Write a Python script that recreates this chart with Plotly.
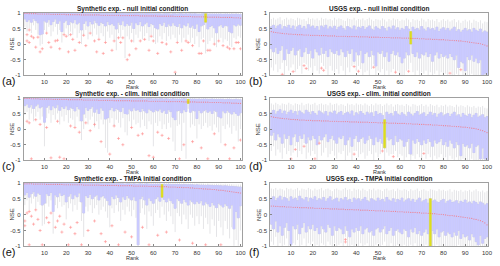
import plotly.graph_objects as go

# ---------------- data ----------------
ranks = list(range(1, 101))
x_tick_vals = [10, 20, 30, 40, 50, 60, 70, 80, 90, 100]
y_tick_vals = [-1, -0.5, 0, 0.5, 1]
y_tick_text = ["-1", "-0.5", "0", "0.5", "1"]

titles = [
    "Synthetic exp. - null initial condition",
    "USGS exp. - null initial condition",
    "Synthetic exp. - clim. initial condition",
    "USGS exp. - clim. initial condition",
    "Synthetic exp. - TMPA initial condition",
    "USGS exp. - TMPA initial condition",
]
panel_labels = ["(a)", "(b)", "(c)", "(d)", "(e)", "(f)"]
highlight_ranks = [84, 65, 76, 53, 64, 74]

# (a) synthetic - null
syn_null_med = [.98,.98,.97,.97,.97,.97,.96,.96,.96,.96,
                .96,.96,.95,.95,.95,.95,.95,.95,.95,.94,
                .94,.94,.94,.94,.94,.94,.93,.93,.93,.93,
                .93,.93,.93,.93,.93,.92,.92,.92,.92,.92,
                .92,.92,.92,.92,.91,.91,.91,.91,.91,.91,
                .91,.91,.91,.90,.90,.90,.90,.90,.90,.90,
                .90,.89,.89,.89,.89,.89,.89,.89,.89,.88,
                .88,.88,.88,.88,.88,.88,.88,.87,.87,.87,
                .87,.87,.87,.87,.86,.86,.86,.86,.86,.86,
                .85,.85,.85,.85,.85,.85,.84,.84,.84,.83]
syn_null_q3 = [.99,.99,.99,.99,.99,.99,.99,.99,.98,.99,
               .99,.98,.99,.98,.99,.98,.98,.99,.98,.98,
               .98,.98,.99,.98,.98,.98,.98,.98,.98,.98,
               .98,.97,.98,.98,.98,.98,.97,.98,.98,.97,
               .98,.97,.98,.98,.97,.98,.97,.97,.98,.97,
               .97,.98,.97,.97,.97,.97,.98,.97,.97,.97,
               .97,.97,.97,.96,.97,.97,.97,.96,.97,.97,
               .96,.97,.97,.96,.97,.96,.97,.96,.97,.96,
               .96,.96,.97,.97,.96,.96,.96,.96,.96,.96,
               .96,.95,.96,.96,.95,.96,.95,.96,.95,.95]
syn_null_q1 = [.80,.72,.78,.70,.82,.75,.68,.30,.32,.74,
               .70,.78,.62,.72,.80,.66,.74,.40,.70,.76,
               .62,.72,.68,.78,.64,.70,.45,.66,.74,.58,
               .72,.64,.76,.68,.60,.70,.66,.58,.72,.62,
               .66,.60,.48,.70,.62,.74,.58,.66,.60,.70,
               .50,.68,.62,.72,.58,.64,.70,.56,.66,.62,
               .52,.48,.66,.60,.70,.56,.64,.58,.68,.60,
               .56,.66,.52,.62,.58,.68,.54,.60,.50,.64,
               .40,.58,.62,.70,.48,.56,.60,.52,.36,.58,
               .62,.54,.60,.58,.40,.36,.62,.58,.64,.60]
syn_null_lo = [.55,.40,.50,.35,.60,.45,.30,-.05,.00,.45,
               .40,.55,.25,.40,.55,.30,.45,.05,.35,.50,
               .25,.40,.30,.50,.20,.35,.00,.30,.45,.15,
               .40,.25,.50,.30,.20,.35,.25,.10,.40,.20,
               .30,.15,-.20,.35,.20,.45,-.45,.25,.15,.35,
               .05,.30,.20,.40,.15,.25,.35,.10,.30,.20,
               .00,.05,.25,.15,.35,.10,.25,.15,.30,.20,
               .10,.30,.05,.20,.15,.30,.05,.20,.00,.25,
               -.10,.15,.20,-.30,.00,.10,.20,.05,-.10,.15,
               .20,.05,.15,.10,-.05,-.10,.20,.15,.25,.20]
syn_null_hi = [1.0,1.0,1.0,1.0,1.0,1.0,1.0,1.0,1.0,1.0,
               1.0,1.0,1.0,1.0,1.0,1.0,1.0,1.0,1.0,1.0,
               1.0,1.0,1.0,1.0,1.0,1.0,1.0,1.0,1.0,1.0,
               1.0,1.0,1.0,1.0,1.0,1.0,1.0,1.0,1.0,1.0,
               1.0,1.0,1.0,1.0,1.0,1.0,1.0,1.0,1.0,1.0,
               1.0,1.0,1.0,1.0,1.0,1.0,1.0,1.0,1.0,1.0,
               1.0,1.0,1.0,.99,1.0,1.0,1.0,.99,1.0,1.0,
               .99,1.0,1.0,.99,1.0,.99,1.0,.99,1.0,.99,
               .99,.99,1.0,1.0,.99,.99,.99,.99,.99,.99,
               .99,.99,.99,.99,.99,.99,.99,.99,.99,.99]
syn_null_out_x = [2,2,3,3,4,5,6,7,8,9,11,12,13,15,16,17,19,20,21,22,
                  23,24,26,28,29,31,33,34,35,37,38,41,42,44,45,46,48,49,50,52,
                  54,56,58,59,60,62,64,66,68,70,71,73,75,76,78,81,82,83,85,86,
                  88,90,92,94,95,97,98,99,100]
syn_null_out_y = [.30,.10,.45,.05,.25,.20,-.10,.22,-.25,-.15,.35,.05,-.10,.10,.12,-.15,.30,.25,-.25,.30,
                  .15,-.20,.05,.28,-.05,.35,.10,-.25,.15,-.30,.05,-.20,.10,.20,.05,.20,-.50,-.35,.10,-.15,
                  .10,.15,-.20,.25,.10,-.30,.05,.00,-.25,-.90,.05,-.20,.10,.05,-.05,-.30,-.30,.10,-.20,-.20,
                  .00,.10,-.05,-.10,-.15,-.15,.05,.05,-.15]

# (b) USGS - null
usgs_null_med = [.40,.38,.37,.36,.35,.34,.33,.33,.32,.32,
                 .31,.31,.30,.30,.30,.29,.29,.29,.28,.28,
                 .28,.28,.27,.27,.27,.27,.26,.26,.26,.26,
                 .25,.25,.25,.25,.25,.24,.24,.24,.24,.24,
                 .23,.23,.23,.23,.23,.22,.22,.22,.22,.22,
                 .21,.21,.21,.21,.21,.20,.20,.20,.20,.20,
                 .19,.19,.19,.19,.18,.18,.18,.18,.17,.17,
                 .17,.16,.16,.16,.15,.15,.15,.14,.14,.14,
                 .13,.13,.12,.12,.11,.11,.10,.10,.09,.08,
                 .07,.06,.05,.04,.03,.02,.01,-.01,-.03,-.06]
usgs_null_q3 = [.55,.60,.50,.58,.62,.48,.56,.52,.60,.50,
                .58,.46,.55,.60,.50,.56,.48,.62,.54,.58,
                .50,.56,.44,.58,.52,.60,.48,.55,.50,.57,
                .46,.54,.58,.50,.44,.56,.52,.48,.58,.45,
                .54,.50,.56,.46,.52,.58,.48,.44,.55,.50,
                .46,.56,.50,.42,.54,.48,.58,.46,.52,.44,
                .50,.46,.56,.48,.40,.54,.46,.50,.44,.56,
                .48,.42,.52,.46,.50,.44,.54,.40,.48,.52,
                .44,.50,.42,.48,.54,.40,.46,.38,.44,.50,
                .42,.46,.38,.50,.44,.40,.48,.36,.42,.38]
usgs_null_q1 = [-.15,-.25,-.10,-.30,-.20,-.05,-.50,-.15,-.30,-.20,
                -.10,-.35,-.20,-.15,-.40,-.25,-.10,-.30,-.20,-.45,
                -.15,-.25,-.35,-.10,-.30,-.20,-.40,-.15,-.25,-.30,
                -.20,-.35,-.15,-.25,-.40,-.20,-.30,-.15,-.55,-.25,
                -.35,-.20,-.60,-.30,-.25,-.40,-.20,-.35,-.70,-.25,
                -.30,-.20,-.40,-.25,-.55,-.30,-.20,-.35,-.25,-.40,
                -.60,-.45,-.25,-.35,.00,-.30,-.40,-.25,-.45,-.30,
                -.35,-.25,-.40,-.30,-.55,-.35,-.25,-.45,-.30,-.40,
                -.35,-.45,-.30,-.40,-.50,-.35,-.75,-.55,-.60,-.85,
                -.40,-.50,-.35,-.55,-.45,-.60,-.50,-1.0,-.95,-1.0]
usgs_null_lo = [-.75,-.85,-.65,-.90,-.80,-.60,-1.0,-.70,-.85,-.75,
                -.65,-.90,-.80,-.70,-.95,-.60,-.65,-.85,-.75,-1.0,
                -.70,-.85,-.95,-.60,-.70,-.80,-1.0,-.70,-.85,-.90,
                -.80,-.95,-.70,-.85,-1.0,-.75,-.90,-.70,-.65,-.85,
                -.70,-.80,-1.0,-.90,-.85,-1.0,-.80,-.65,-1.0,-.85,
                -.90,-.80,-1.0,-.85,-1.0,-.90,-.80,-.85,-.85,-1.0,
                -1.0,-1.0,-.85,-.80,-.60,-.90,-1.0,-.85,-1.0,-.90,
                -.95,-.85,-1.0,-.90,-1.0,-.95,-.85,-1.0,-.90,-1.0,
                -.95,-1.0,-.85,-1.0,-1.0,-.95,-1.0,-.75,-1.0,-1.0,
                -1.0,-1.0,-.95,-1.0,-1.0,-1.0,-1.0,-1.0,-1.0,-1.0]
usgs_null_hi = [.80,.84,.78,.82,.86,.76,.80,.84,.78,.82,
                .80,.76,.84,.82,.78,.80,.74,.84,.80,.82,
                .78,.82,.76,.84,.80,.82,.78,.80,.76,.84,
                .78,.82,.80,.76,.74,.82,.80,.78,.84,.76,
                .80,.78,.82,.76,.80,.84,.78,.74,.80,.78,
                .76,.82,.78,.72,.80,.76,.82,.78,.80,.74,
                .78,.76,.82,.78,.70,.80,.76,.78,.74,.82,
                .78,.72,.80,.76,.78,.74,.80,.70,.76,.80,
                .74,.78,.72,.76,.80,.70,.76,.68,.74,.78,
                .72,.76,.68,.78,.74,.70,.76,.66,.72,.70]
usgs_null_out_x = [6,11,16,17,24,25,39,41,48,58,64,83,88]
usgs_null_out_y = [-.97,-.88,-.69,-.78,-.77,-.84,-.72,-.87,-.74,-.90,-.87,-.93,-.82]

# (c) synthetic - clim
syn_clim_med = [.98,.98,.98,.97,.97,.97,.97,.96,.96,.96,
                .96,.96,.96,.95,.95,.95,.95,.95,.95,.95,
                .94,.94,.94,.94,.94,.94,.94,.93,.93,.93,
                .93,.93,.93,.93,.92,.92,.92,.92,.92,.92,
                .92,.91,.91,.91,.91,.91,.91,.91,.91,.90,
                .90,.90,.90,.90,.90,.90,.90,.89,.89,.89,
                .89,.89,.89,.89,.89,.88,.88,.88,.88,.88,
                .88,.88,.88,.87,.87,.87,.87,.87,.87,.86,
                .86,.86,.86,.86,.86,.85,.85,.85,.85,.85,
                .85,.84,.84,.84,.84,.83,.83,.83,.82,.82]
syn_clim_q3 = [.99,.99,.99,.99,.99,.98,.99,.99,.99,.98,
               .99,.98,.99,.98,.98,.99,.98,.98,.98,.98,
               .98,.98,.98,.99,.98,.98,.97,.98,.98,.98,
               .98,.98,.97,.98,.97,.98,.98,.97,.97,.98,
               .97,.98,.97,.97,.98,.97,.97,.97,.97,.97,
               .97,.97,.98,.97,.97,.96,.97,.97,.97,.96,
               .97,.96,.97,.97,.96,.97,.96,.96,.97,.96,
               .96,.96,.96,.97,.96,.95,.96,.96,.96,.95,
               .96,.95,.96,.96,.95,.95,.96,.95,.95,.95,
               .95,.95,.94,.95,.95,.94,.94,.95,.94,.94]
syn_clim_q1 = [.75,.80,.70,.78,.66,.74,.80,.68,.72,.22,
               .70,.76,.62,.74,.68,.78,.60,.72,.66,.74,
               .62,.70,.66,.58,.72,.64,.26,.48,.70,.60,
               .66,.72,.54,.64,.50,.68,.60,.32,.36,.62,
               .70,.58,.66,.62,.56,.70,.50,.48,.64,.58,
               .68,.60,.62,.56,.66,.58,.52,.64,.60,.55,
               .62,.58,.64,.54,.60,.50,.62,.56,.38,.30,
               .58,.60,.52,.62,.56,.82,.54,.60,.58,.34,
               .60,.52,.58,.62,.54,.58,.50,.60,.56,.40,
               .36,.58,.52,.60,.54,.48,.56,.50,.44,.52]
syn_clim_lo = [.45,.55,.30,.50,.25,.40,.55,.30,.40,-.55,
               .35,.50,.20,.45,.30,.50,.15,.40,.25,.45,
               .20,.35,.30,.10,.40,.25,-.35,.00,.35,.15,
               .30,.40,.05,.25,.00,.30,.15,-.60,-.75,.20,
               .35,.10,.30,.20,.05,.35,-.10,-.20,.25,.10,
               .30,.15,.20,.05,.30,.10,.00,.25,.15,-.55,
               .20,.10,.25,.00,.15,.00,.20,.05,-.40,-.70,
               .10,.15,-.70,.20,-.95,.65,.05,.15,.10,-.30,
               .15,.00,.10,.20,.05,.10,-.05,.15,.05,-.10,
               -.45,.10,.00,.15,.05,-.15,.10,-.05,-.40,.00]
syn_clim_hi = [1.0,1.0,1.0,1.0,1.0,1.0,1.0,1.0,1.0,1.0,
               1.0,1.0,1.0,1.0,1.0,1.0,1.0,1.0,1.0,1.0,
               1.0,1.0,1.0,1.0,1.0,1.0,1.0,1.0,1.0,1.0,
               1.0,1.0,1.0,1.0,1.0,1.0,1.0,1.0,1.0,1.0,
               1.0,1.0,1.0,1.0,1.0,1.0,1.0,1.0,1.0,1.0,
               1.0,1.0,1.0,1.0,1.0,.99,1.0,1.0,1.0,.99,
               1.0,.99,1.0,1.0,.99,1.0,.99,.99,1.0,.99,
               .99,.99,.99,1.0,.99,.98,.99,.99,.99,.99,
               .99,.99,.99,.99,.99,.99,.99,.99,.99,.99,
               .99,.99,.98,.99,.99,.98,.98,.99,.98,.98]
syn_clim_out_x = [2,3,4,6,8,11,13,16,17,19,22,24,26,29,31,33,36,40,42,44,
                  46,50,53,55,58,60,62,64,67,72,74,78,82,85,88,93,95,97,100]
syn_clim_out_y = [.25,.20,-.95,.30,.15,.05,-.92,.25,-.90,-.95,.10,.05,-.10,.20,-.05,.15,-.40,-.80,.10,-.30,
                  -.50,.05,-.20,-.15,-.85,-.90,-.10,-.20,-.30,-.95,-.50,-.40,-.60,-.95,-.15,-.50,-.95,-.60,-.35]

# (d) USGS - clim
usgs_clim_med = [.40,.38,.37,.36,.35,.34,.33,.33,.32,.31,
                 .31,.30,.30,.29,.29,.29,.28,.28,.28,.27,
                 .27,.27,.27,.26,.26,.26,.26,.25,.25,.25,
                 .25,.24,.24,.24,.24,.24,.23,.23,.23,.23,
                 .22,.22,.22,.22,.22,.21,.21,.21,.21,.20,
                 .20,.20,.20,.20,.19,.19,.19,.19,.18,.18,
                 .18,.18,.17,.17,.17,.16,.16,.16,.15,.15,
                 .15,.14,.14,.14,.13,.13,.13,.12,.12,.11,
                 .11,.10,.10,.09,.09,.08,.08,.07,.06,.06,
                 .05,.04,.03,.02,.01,-.01,-.03,-.05,-.08,-.11]
usgs_clim_q3 = [.52,.60,.48,.56,.62,.50,.58,.46,.54,.60,
                .50,.56,.44,.58,.52,.48,.60,.54,.46,.56,
                .50,.44,.58,.52,.48,.56,.42,.54,.50,.58,
                .46,.52,.56,.44,.50,.54,.48,.58,.42,.52,
                .46,.56,.50,.44,.54,.48,.52,.40,.56,.46,
                .50,.44,.30,.54,.46,.50,.42,.56,.48,.44,
                .52,.46,.40,.54,.48,.42,.50,.56,.44,.48,
                .52,.40,.46,.54,.44,.50,.38,.48,.52,.42,
                .46,.50,.40,.48,.54,.42,.46,.38,.50,.44,
                .40,.48,.36,.44,.50,.38,.42,.46,.36,.40]
usgs_clim_q1 = [-.20,-.10,-.35,-.15,-.25,-.45,-.15,-.30,-.20,-.50,
                -.25,-.15,-.40,-.20,-.30,-.15,-.45,-.25,-.35,-.20,
                -.30,-.50,-.20,-.35,-.25,-.15,-.40,-.30,-.20,-.35,
                -.45,-.25,-.30,-.20,-.50,-.35,-.25,-.55,-.30,-.20,
                -.40,-.30,-.25,-.45,-.35,-.20,-.30,-.50,-.25,-.40,
                -.30,-.45,-.60,-.25,-.35,-.30,-.50,-.20,-.40,-.30,
                -.35,-.55,-.40,-.30,-.80,-.35,-.45,-.30,-.40,-.50,
                -.35,-.45,-.30,-.40,-.55,-.35,-.45,-.40,-.30,-.50,
                -.40,-.55,-.35,-.45,-.60,-.40,-.50,-.85,-.45,-.55,
                -.50,-.60,-.45,-.75,-.55,-.50,-.95,-.60,-.95,-1.0]
usgs_clim_lo = [-.70,-.55,-.85,-.65,-.75,-.95,-.60,-.80,-.70,-.85,
                -.75,-.55,-.90,-.70,-.80,-.45,-.95,-.75,-.85,-.70,
                -.80,-1.0,-.40,-.85,-.75,-.60,-.90,-.80,-.70,-.85,
                -.95,-.75,-.80,-.70,-1.0,-.85,-.75,-1.0,-.70,-.70,
                -.90,-.80,-.75,-.95,-.85,-.70,-.80,-1.0,-.75,-.90,
                -.80,-.65,-1.0,-.75,-.85,-.80,-.80,-.70,-.90,-.80,
                -.85,-1.0,-.90,-.80,-1.0,-.85,-.95,-.80,-.90,-1.0,
                -.70,-.95,-.80,-.90,-1.0,-.85,-.95,-.90,-.80,-1.0,
                -.90,-1.0,-.85,-.95,-1.0,-.90,-1.0,-1.0,-.95,-1.0,
                -1.0,-1.0,-.95,-1.0,-1.0,-1.0,-1.0,-1.0,-1.0,-1.0]
usgs_clim_hi = [.82,.78,.84,.80,.76,.82,.80,.78,.84,.80,
                .76,.82,.80,.78,.84,.76,.80,.82,.78,.80,
                .84,.76,.80,.82,.78,.80,.76,.84,.78,.80,
                .82,.76,.80,.78,.74,.82,.78,.80,.76,.82,
                .78,.80,.76,.82,.78,.74,.80,.76,.82,.78,
                .80,.74,.78,.82,.76,.80,.72,.78,.80,.76,
                .78,.74,.80,.76,.72,.80,.78,.74,.76,.80,
                .74,.78,.72,.80,.76,.74,.78,.70,.76,.74,
                .78,.72,.76,.74,.70,.78,.72,.76,.74,.70,
                .76,.72,.70,.74,.68,.72,.70,.74,.68,.66]
usgs_clim_out_x = [10,12,16,21,23,39,52,57,71]
usgs_clim_out_y = [-.95,-.65,-.55,-.95,-.45,-.80,-.70,-.88,-.78]

# (e) synthetic - TMPA
syn_tmpa_med = [.97,.97,.97,.97,.96,.96,.96,.96,.96,.96,
                .95,.95,.95,.95,.95,.95,.95,.95,.94,.94,
                .94,.94,.94,.94,.94,.94,.94,.93,.93,.93,
                .93,.93,.93,.93,.93,.92,.92,.92,.92,.92,
                .92,.92,.92,.91,.91,.91,.91,.91,.91,.91,
                .90,.90,.90,.90,.90,.90,.90,.89,.89,.89,
                .89,.89,.88,.88,.88,.88,.87,.87,.87,.87,
                .86,.86,.86,.85,.85,.85,.84,.84,.83,.83,
                .82,.82,.81,.81,.80,.80,.79,.79,.78,.77,
                .77,.76,.75,.74,.73,.72,.71,.70,.69,.68]
syn_tmpa_q3 = [.99,.99,.99,.99,.99,.99,.99,.99,.99,.98,
               .99,.99,.98,.98,.99,.98,.98,.99,.98,.98,
               .98,.98,.98,.98,.98,.98,.98,.98,.98,.97,
               .98,.98,.97,.98,.97,.98,.97,.97,.98,.97,
               .97,.97,.97,.97,.97,.97,.96,.97,.97,.96,
               .97,.96,.96,.97,.96,.96,.97,.96,.96,.96,
               .96,.96,.96,.95,.96,.95,.96,.95,.95,.95,
               .95,.95,.94,.95,.94,.94,.94,.94,.93,.94,
               .93,.93,.93,.92,.93,.92,.92,.91,.92,.91,
               .91,.90,.91,.90,.89,.89,.88,.88,.87,.87]
syn_tmpa_q1 = [.62,.70,.55,.66,.72,.58,.68,.64,.30,.36,
               .66,.60,.70,.10,.62,.56,.68,.60,.64,.40,
               .58,.66,.50,.62,.56,.68,.40,.05,.60,.54,
               .64,.50,.58,.62,.46,.56,.60,.52,.44,.30,
               .58,.50,.62,.54,.40,.56,.48,.60,.52,.46,
               .56,.44,-.95,.50,.58,.46,.30,.52,.44,.36,
               .50,.56,.42,.55,.48,.40,.52,.44,.36,.20,
               .50,.44,.36,.48,.40,.30,.46,.40,.34,.42,
               .36,.44,.30,.40,.34,.26,.38,.30,.22,.36,
               .30,.24,.34,.28,.20,.30,-.45,.10,-.10,.28]
syn_tmpa_lo = [.30,.45,.15,.35,.50,.20,.40,.30,-.35,-.30,
               .35,.25,.45,-.60,.30,.20,.40,.25,.30,-.15,
               .20,.35,.10,.30,.15,.40,-.20,-.70,.25,.10,
               .30,.05,.20,.30,.00,.15,.25,.10,-.10,-.40,
               .20,.05,.30,.10,-.20,.15,.00,.25,.10,-.05,
               .15,-.10,-.98,.05,.20,.00,-.45,.10,-.05,-.35,
               .05,.15,-.10,.25,.00,-.20,.10,-.05,-.30,-.55,
               .05,-.05,-.30,.00,-.15,-.45,.00,-.10,-.35,-.05,
               -.30,-.05,-.45,-.10,-.30,-.60,-.15,-.35,-.70,-.20,
               -.40,-.65,-.20,-.45,-.75,-.40,-.98,-.80,-.98,-.50]
syn_tmpa_hi = [1.0,1.0,1.0,1.0,1.0,1.0,1.0,1.0,1.0,1.0,
               1.0,1.0,1.0,1.0,1.0,1.0,1.0,1.0,1.0,1.0,
               1.0,1.0,1.0,1.0,1.0,1.0,1.0,1.0,1.0,1.0,
               1.0,1.0,1.0,1.0,1.0,1.0,1.0,1.0,1.0,1.0,
               1.0,1.0,1.0,1.0,1.0,1.0,.99,1.0,1.0,.99,
               1.0,.99,.99,1.0,.99,.99,1.0,.99,.99,.99,
               .99,.99,.99,.99,.99,.99,.99,.99,.99,.99,
               .99,.99,.98,.99,.98,.98,.98,.98,.98,.98,
               .98,.98,.98,.97,.98,.97,.97,.97,.97,.97,
               .97,.96,.97,.96,.96,.96,.95,.95,.95,.95]
syn_tmpa_out_x = [1,1,2,3,3,4,5,6,7,8,9,11,12,13,15,16,17,18,19,21,
                  22,24,25,27,30,33,36,38,41,44,47,50,55,58,62,66,72,78,84,91]
syn_tmpa_out_y = [-.20,-.35,.05,-.95,.10,-.05,-.30,.15,-.15,-.50,-.95,-.10,-.25,.05,-.40,-.20,-.05,-.55,-.30,-.95,
                  -.40,-.60,-.25,-.95,-.50,-.20,-.60,-.85,-.35,-.95,-.55,-.70,-.40,-.95,-.65,-.55,-.80,-.90,-.95,-.95]

# (f) USGS - TMPA
usgs_tmpa_med = [.27,.27,.26,.26,.25,.25,.25,.24,.24,.24,
                 .23,.23,.23,.22,.22,.22,.22,.21,.21,.21,
                 .20,.20,.20,.20,.19,.19,.19,.18,.18,.18,
                 .18,.17,.17,.17,.16,.16,.16,.16,.15,.15,
                 .15,.14,.14,.14,.14,.13,.13,.13,.12,.12,
                 .12,.12,.11,.11,.11,.10,.10,.10,.09,.09,
                 .09,.08,.08,.08,.07,.07,.07,.06,.06,.05,
                 .05,.05,.04,.04,.03,.03,.02,.01,.01,.00,
                 -.01,-.02,-.03,-.03,-.04,-.05,-.06,-.07,-.08,-.09,
                 -.10,-.11,-.12,-.14,-.15,-.17,-.19,-.22,-.26,-.32]
usgs_tmpa_q3 = [.50,.56,.44,.52,.58,.46,.54,.50,.42,.56,
                .48,.52,.44,.58,.50,.46,.54,.40,.52,.48,
                .56,.44,.50,.46,.54,.42,.50,.56,.44,.48,
                .52,.40,.50,.46,.54,.44,.48,.38,.52,.46,
                .50,.42,.48,.54,.44,.40,.50,.46,.42,.52,
                .44,.48,.40,.54,.46,.42,.50,.38,.48,.44,
                .52,.40,.46,.50,.42,.48,.38,.46,.52,.40,
                .44,.48,.36,.50,.42,.46,.40,.38,.44,.48,
                .36,.42,.46,.38,.40,.44,.34,.42,.38,.46,
                .36,.40,.34,.42,.38,.32,.40,.36,.30,.34]
usgs_tmpa_q1 = [-.30,-.45,-.20,-.55,-.35,-.65,-.40,-.25,-.50,-.95,
                -.35,-.45,-.30,-.60,-.40,-.25,-.55,-.35,-.45,-.30,
                -.50,-.40,-.60,-.35,-.45,-.55,-.30,-.40,-.65,-.35,
                -.50,-.40,-.45,-.60,-.35,-.50,-.70,-.45,-.55,-.40,
                -.50,-.35,-.60,-.45,-.40,-.55,-.50,-.65,-.45,-.40,
                -.55,-.45,-.35,-.60,-.50,-.40,-.65,-.50,-.45,-.55,
                -.60,-.45,-.50,-.70,-.45,-.55,-.40,-.60,-.50,-.65,
                -.55,-.45,-.60,-1.0,-.50,-.60,-.45,-.70,-.55,-.50,
                -.65,-.55,-.60,-.70,-.55,-.65,-.50,-.75,-.60,-.70,
                -.65,-.80,-.60,-.70,-.85,-.95,-.65,-.90,-.75,-.70]
usgs_tmpa_lo = [-.85,-.95,-.70,-1.0,-.90,-1.0,-.95,-.75,-1.0,-1.0,
                -.90,-.95,-.80,-1.0,-.95,-.75,-1.0,-.90,-.95,-.85,
                -1.0,-.95,-1.0,-.90,-.95,-1.0,-.85,-.95,-1.0,-.90,
                -1.0,-.95,-.90,-1.0,-.70,-1.0,-1.0,-.95,-1.0,-.95,
                -1.0,-.90,-1.0,-.95,-.90,-1.0,-1.0,-1.0,-.95,-.90,
                -1.0,-.95,-.85,-1.0,-1.0,-.90,-1.0,-1.0,-.95,-1.0,
                -1.0,-.95,-1.0,-1.0,-.95,-1.0,-.90,-1.0,-1.0,-1.0,
                -1.0,-.95,-1.0,-1.0,-1.0,-1.0,-.95,-1.0,-1.0,-1.0,
                -1.0,-1.0,-1.0,-1.0,-1.0,-1.0,-.95,-1.0,-1.0,-1.0,
                -1.0,-1.0,-1.0,-1.0,-1.0,-1.0,-1.0,-1.0,-1.0,-1.0]
usgs_tmpa_hi = [.82,.80,.84,.78,.82,.80,.76,.84,.80,.82,
                .78,.80,.84,.76,.82,.80,.78,.84,.80,.76,
                .82,.78,.80,.84,.76,.80,.82,.78,.74,.80,
                .82,.78,.76,.80,.84,.78,.80,.74,.82,.78,
                .80,.76,.82,.78,.74,.80,.78,.82,.76,.80,
                .78,.74,.80,.82,.76,.78,.80,.74,.82,.78,
                .76,.80,.78,.74,.80,.76,.78,.82,.74,.78,
                .80,.76,.74,.80,.78,.76,.74,.80,.76,.78,
                .74,.76,.80,.72,.78,.76,.74,.78,.72,.76,
                .74,.78,.72,.76,.80,.74,.72,.76,.70,.74]
usgs_tmpa_out_x = [35, 35]
usgs_tmpa_out_y = [-.78, -.86]

# ---------------- assemble ----------------
panels = [
    dict(med=syn_null_med, q1=syn_null_q1, q3=syn_null_q3, lo=syn_null_lo, hi=syn_null_hi, ox=syn_null_out_x, oy=syn_null_out_y),
    dict(med=usgs_null_med, q1=usgs_null_q1, q3=usgs_null_q3, lo=usgs_null_lo, hi=usgs_null_hi, ox=usgs_null_out_x, oy=usgs_null_out_y),
    dict(med=syn_clim_med, q1=syn_clim_q1, q3=syn_clim_q3, lo=syn_clim_lo, hi=syn_clim_hi, ox=syn_clim_out_x, oy=syn_clim_out_y),
    dict(med=usgs_clim_med, q1=usgs_clim_q1, q3=usgs_clim_q3, lo=usgs_clim_lo, hi=usgs_clim_hi, ox=usgs_clim_out_x, oy=usgs_clim_out_y),
    dict(med=syn_tmpa_med, q1=syn_tmpa_q1, q3=syn_tmpa_q3, lo=syn_tmpa_lo, hi=syn_tmpa_hi, ox=syn_tmpa_out_x, oy=syn_tmpa_out_y),
    dict(med=usgs_tmpa_med, q1=usgs_tmpa_q1, q3=usgs_tmpa_q3, lo=usgs_tmpa_lo, hi=usgs_tmpa_hi, ox=usgs_tmpa_out_x, oy=usgs_tmpa_out_y),
]

W, H = 500, 266
FONT = "Liberation Sans, Arial, Helvetica, sans-serif"
LAV = "rgb(202,202,255)"
WHISK = "rgba(165,165,175,0.6)"
MEDC = "rgba(255,100,100,0.7)"
OUTC = "rgba(255,130,130,0.9)"
YEL = "rgb(222,222,30)"

col_px = [(24, 244), (273, 493)]
row_px = [(10, 74), (97, 161), (184, 249)]

def px_x(p):
    return p / W

def px_y(p):
    return 1 - p / H

fig = go.Figure()
layout_axes = {}
annotations = []

for i, p in enumerate(panels):
    r, c = divmod(i, 2)
    xa = "x" if i == 0 else f"x{i+1}"
    ya = "y" if i == 0 else f"y{i+1}"
    x0, x1 = col_px[c]
    y0, y1 = row_px[r]

    # whiskers (gray) + box
    fig.add_trace(go.Box(
        x=ranks, q1=p["q1"], median=p["med"], q3=p["q3"],
        lowerfence=p["lo"], upperfence=p["hi"],
        width=0.9, whiskerwidth=0, boxpoints=False,
        fillcolor=LAV, line=dict(color=WHISK, width=0.5),
        xaxis=xa, yaxis=ya, showlegend=False, hoverinfo="skip"))
    # lavender box body drawn over the gray outline
    fig.add_trace(go.Box(
        x=ranks, q1=p["q1"], median=p["med"], q3=p["q3"],
        lowerfence=p["q1"], upperfence=p["q3"],
        width=0.9, whiskerwidth=0, boxpoints=False,
        fillcolor=LAV, line=dict(color=LAV, width=0.5),
        xaxis=xa, yaxis=ya, showlegend=False, hoverinfo="skip"))

    h = highlight_ranks[i]
    k = h - 1
    fig.add_trace(go.Box(
        x=[h], q1=[p["q1"][k]], median=[p["med"][k]], q3=[p["q3"][k]],
        lowerfence=[p["q1"][k]], upperfence=[p["q3"][k]],
        width=0.9, whiskerwidth=0, boxpoints=False,
        fillcolor=YEL, line=dict(color=YEL, width=0.5),
        xaxis=xa, yaxis=ya, showlegend=False, hoverinfo="skip"))

    fig.add_trace(go.Scatter(
        x=ranks, y=p["med"], mode="markers",
        marker=dict(size=1.2, color=MEDC, line=dict(width=0)),
        xaxis=xa, yaxis=ya, showlegend=False, hoverinfo="skip"))

    fig.add_trace(go.Scatter(
        x=p["ox"], y=p["oy"], mode="markers",
        marker=dict(symbol="cross-thin", size=2.2, line=dict(width=0.6, color=OUTC)),
        xaxis=xa, yaxis=ya, showlegend=False, hoverinfo="skip"))

    common = dict(showline=True, linecolor="#a0a0a0", linewidth=1, mirror=True,
                  showgrid=False, zeroline=False, ticks="inside", ticklen=2,
                  tickwidth=0.6, tickcolor="#888",
                  tickfont=dict(family=FONT, size=6, color="#333"))
    layout_axes["xaxis" if i == 0 else f"xaxis{i+1}"] = dict(
        domain=[px_x(x0), px_x(x1)], range=[0.5, 100.5], anchor=ya,
        tickmode="array", tickvals=x_tick_vals, ticklabelstandoff=0, **common)
    layout_axes["yaxis" if i == 0 else f"yaxis{i+1}"] = dict(
        domain=[px_y(y1), px_y(y0)], range=[-1, 1], anchor=xa,
        tickmode="array", tickvals=y_tick_vals, ticktext=y_tick_text,
        ticklabelstandoff=1, **common)

    cx = (x0 + x1) / 2
    annotations.append(dict(text=titles[i], x=px_x(cx), y=px_y(y0 - 3.8),
                            xref="paper", yref="paper", showarrow=False,
                            xanchor="center", yanchor="middle", borderpad=0,
                            font=dict(family=FONT, size=6.5, color="#222", weight="bold")))
    annotations.append(dict(text="Rank", x=px_x(cx), y=px_y(y1 + 12.2),
                            xref="paper", yref="paper", showarrow=False,
                            xanchor="center", yanchor="middle", borderpad=0,
                            font=dict(family=FONT, size=5.5, color="#333")))
    annotations.append(dict(text="NSE", x=px_x(x0 - 12), y=px_y((y0 + y1) / 2),
                            xref="paper", yref="paper", showarrow=False, textangle=-90,
                            xanchor="center", yanchor="middle", borderpad=0,
                            font=dict(family=FONT, size=6, color="#333")))
    annotations.append(dict(text=panel_labels[i], x=px_x(x0 - 23), y=px_y(y1 + 6),
                            xref="paper", yref="paper", showarrow=False,
                            xanchor="left", yanchor="middle", borderpad=0,
                            font=dict(family=FONT, size=11, color="#111")))

fig.update_layout(
    width=W, height=H, margin=dict(l=0, r=0, t=0, b=0),
    paper_bgcolor="white", plot_bgcolor="white",
    boxmode="overlay", showlegend=False,
    annotations=annotations, **layout_axes)

fig.write_html("out.html", config={"displayModeBar": False},
               post_script="document.body.style.margin='0';document.body.style.padding='0';")
